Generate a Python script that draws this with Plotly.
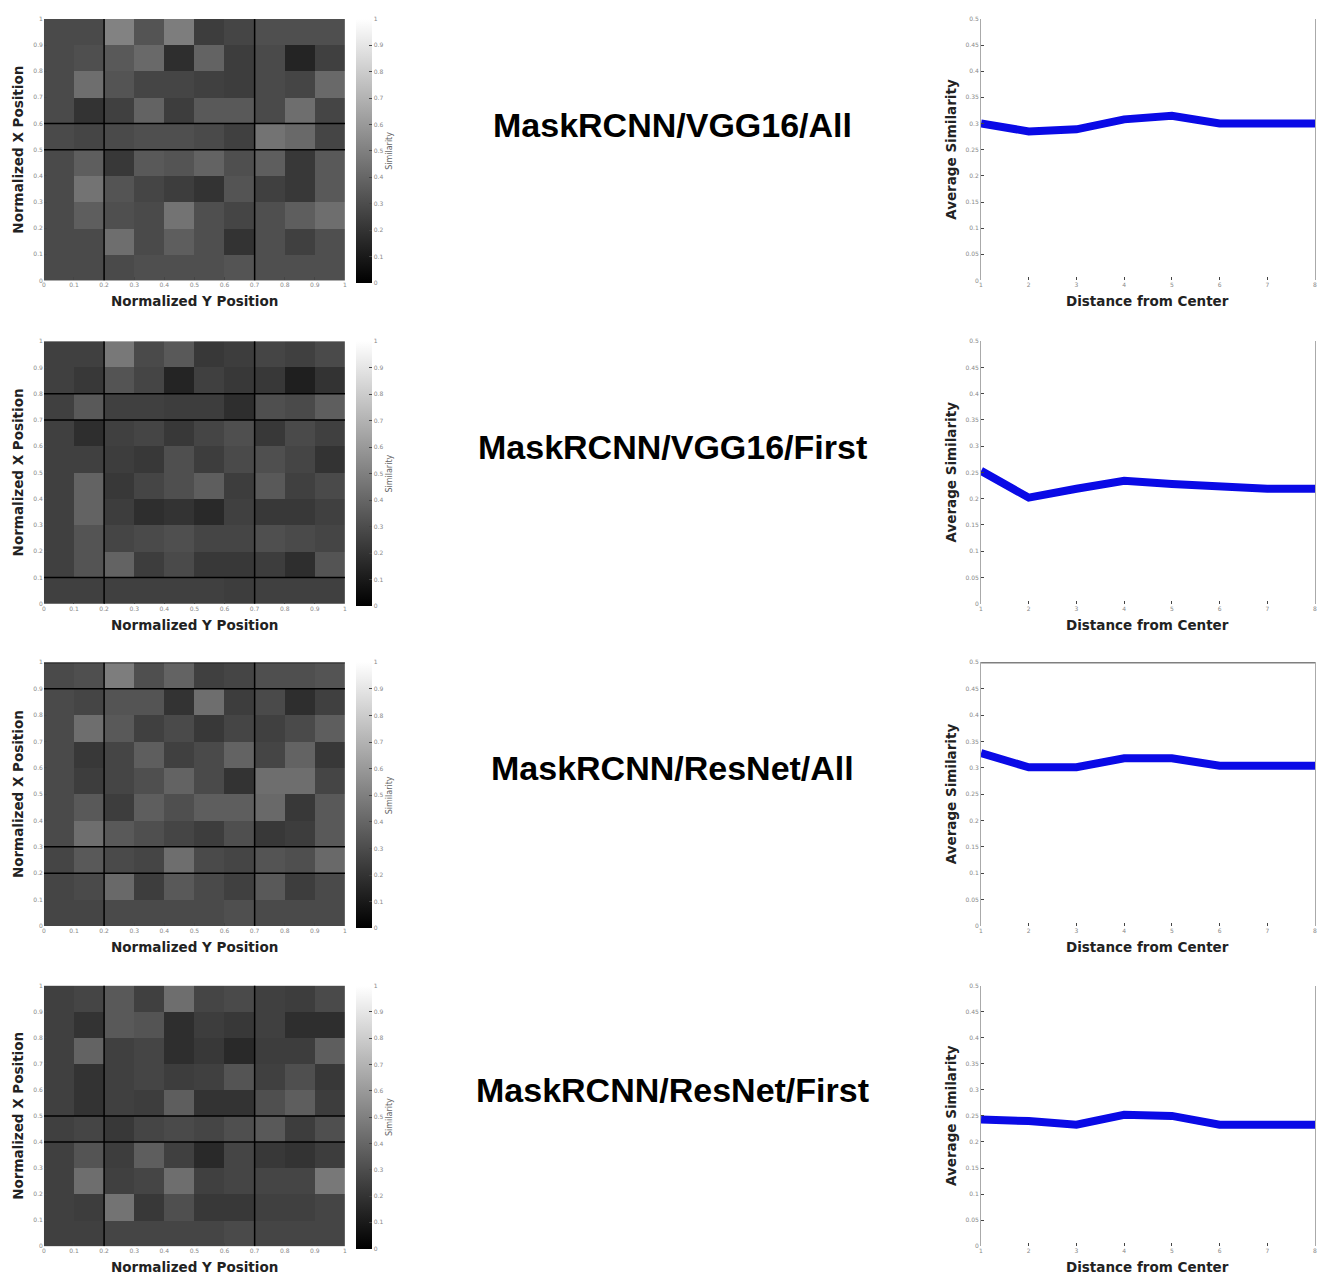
import plotly.graph_objects as go

W, H = 1323, 1280

titles = ["MaskRCNN/VGG16/All", "MaskRCNN/VGG16/First",
          "MaskRCNN/ResNet/All", "MaskRCNN/ResNet/First"]

cell_x = [0.05, 0.15, 0.25, 0.35, 0.45, 0.55, 0.65, 0.75, 0.85, 0.95]
cell_y = [0.95, 0.85, 0.75, 0.65, 0.55, 0.45, 0.35, 0.25, 0.15, 0.05]
ticks01 = [0, 0.1, 0.2, 0.3, 0.4, 0.5, 0.6, 0.7, 0.8, 0.9, 1]
ticklabels01 = ["0", "0.1", "0.2", "0.3", "0.4", "0.5", "0.6", "0.7", "0.8", "0.9", "1"]

# similarity maps, rows listed top (x=0.95) to bottom (x=0.05)
heat_vgg_all = [
    [0.29, 0.29, 0.51, 0.33, 0.49, 0.24, 0.27, 0.31, 0.31, 0.31],
    [0.29, 0.31, 0.35, 0.41, 0.18, 0.39, 0.24, 0.29, 0.14, 0.25],
    [0.29, 0.43, 0.33, 0.27, 0.27, 0.25, 0.24, 0.29, 0.27, 0.41],
    [0.29, 0.20, 0.25, 0.39, 0.24, 0.35, 0.35, 0.29, 0.43, 0.27],
    [0.29, 0.27, 0.29, 0.31, 0.31, 0.29, 0.25, 0.45, 0.41, 0.27],
    [0.29, 0.37, 0.22, 0.35, 0.33, 0.39, 0.31, 0.37, 0.22, 0.35],
    [0.29, 0.45, 0.33, 0.27, 0.24, 0.20, 0.33, 0.25, 0.22, 0.35],
    [0.29, 0.37, 0.31, 0.29, 0.45, 0.31, 0.27, 0.31, 0.37, 0.43],
    [0.29, 0.29, 0.43, 0.29, 0.37, 0.31, 0.20, 0.31, 0.25, 0.31],
    [0.29, 0.29, 0.29, 0.31, 0.31, 0.31, 0.33, 0.31, 0.31, 0.31],
]
heat_vgg_first = [
    [0.25, 0.25, 0.47, 0.29, 0.35, 0.22, 0.24, 0.27, 0.25, 0.29],
    [0.25, 0.22, 0.33, 0.27, 0.14, 0.25, 0.22, 0.22, 0.12, 0.20],
    [0.25, 0.35, 0.25, 0.25, 0.24, 0.24, 0.18, 0.31, 0.29, 0.37],
    [0.25, 0.18, 0.25, 0.27, 0.22, 0.27, 0.31, 0.22, 0.29, 0.25],
    [0.25, 0.25, 0.24, 0.22, 0.31, 0.24, 0.29, 0.31, 0.27, 0.20],
    [0.25, 0.39, 0.22, 0.27, 0.31, 0.37, 0.24, 0.35, 0.25, 0.29],
    [0.25, 0.39, 0.24, 0.18, 0.20, 0.16, 0.25, 0.22, 0.22, 0.25],
    [0.25, 0.33, 0.27, 0.29, 0.31, 0.27, 0.27, 0.31, 0.29, 0.27],
    [0.25, 0.33, 0.39, 0.24, 0.29, 0.22, 0.22, 0.24, 0.18, 0.33],
    [0.25, 0.25, 0.25, 0.25, 0.25, 0.25, 0.24, 0.25, 0.25, 0.25],
]
heat_resnet_all = [
    [0.29, 0.31, 0.49, 0.31, 0.39, 0.25, 0.27, 0.31, 0.31, 0.33],
    [0.29, 0.27, 0.33, 0.33, 0.20, 0.43, 0.24, 0.29, 0.18, 0.25],
    [0.29, 0.43, 0.35, 0.25, 0.29, 0.22, 0.27, 0.25, 0.29, 0.37],
    [0.29, 0.22, 0.27, 0.37, 0.25, 0.29, 0.39, 0.27, 0.39, 0.22],
    [0.29, 0.24, 0.27, 0.31, 0.39, 0.29, 0.20, 0.43, 0.43, 0.27],
    [0.29, 0.35, 0.24, 0.37, 0.31, 0.37, 0.37, 0.41, 0.22, 0.35],
    [0.29, 0.43, 0.35, 0.31, 0.27, 0.24, 0.31, 0.22, 0.24, 0.35],
    [0.27, 0.35, 0.29, 0.27, 0.43, 0.29, 0.27, 0.33, 0.31, 0.41],
    [0.27, 0.29, 0.41, 0.24, 0.35, 0.29, 0.25, 0.35, 0.24, 0.29],
    [0.27, 0.27, 0.29, 0.29, 0.29, 0.29, 0.31, 0.29, 0.29, 0.29],
]
heat_resnet_first = [
    [0.25, 0.27, 0.35, 0.25, 0.43, 0.27, 0.29, 0.25, 0.24, 0.29],
    [0.25, 0.20, 0.35, 0.33, 0.18, 0.24, 0.22, 0.25, 0.18, 0.18],
    [0.25, 0.39, 0.25, 0.27, 0.18, 0.22, 0.16, 0.24, 0.24, 0.37],
    [0.25, 0.20, 0.25, 0.27, 0.24, 0.25, 0.33, 0.25, 0.31, 0.22],
    [0.25, 0.20, 0.25, 0.24, 0.37, 0.20, 0.20, 0.31, 0.37, 0.24],
    [0.25, 0.27, 0.22, 0.27, 0.29, 0.27, 0.31, 0.35, 0.24, 0.31],
    [0.25, 0.33, 0.24, 0.37, 0.25, 0.16, 0.27, 0.22, 0.20, 0.24],
    [0.25, 0.43, 0.25, 0.27, 0.43, 0.25, 0.27, 0.27, 0.27, 0.47],
    [0.25, 0.24, 0.45, 0.22, 0.31, 0.22, 0.22, 0.25, 0.25, 0.27],
    [0.25, 0.25, 0.27, 0.27, 0.27, 0.27, 0.29, 0.27, 0.27, 0.27],
]
heatmaps = [heat_vgg_all, heat_vgg_first, heat_resnet_all, heat_resnet_first]

# black grid lines seen on each map
vlines = [[0.2, 0.7], [0.2, 0.7], [0.2, 0.7], [0.2, 0.7]]
hlines = [[0.5, 0.6], [0.1, 0.7, 0.8], [0.2, 0.3, 0.9, 1.0], [0.4, 0.5]]

distance = [1, 2, 3, 4, 5, 6, 7, 8]
sim_vgg_all = [0.300, 0.285, 0.289, 0.308, 0.315, 0.300, 0.300, 0.300]
sim_vgg_first = [0.253, 0.202, 0.219, 0.234, 0.228, 0.222, 0.219, 0.219]
sim_resnet_all = [0.328, 0.301, 0.301, 0.318, 0.318, 0.304, 0.304, 0.304]
sim_resnet_first = [0.243, 0.240, 0.233, 0.252, 0.250, 0.233, 0.233, 0.233]
profiles = [sim_vgg_all, sim_vgg_first, sim_resnet_all, sim_resnet_first]
sim_ticks = [0, 0.05, 0.1, 0.15, 0.2, 0.25, 0.3, 0.35, 0.4, 0.45, 0.5]
sim_ticklabels = ["0", "0.05", "0.1", "0.15", "0.2", "0.25", "0.3", "0.35", "0.4", "0.45", "0.5"]

# pixel layout
heat_x = (42, 344)
line_x = (982, 1317)
rows_px = [(15, 278), (339, 603), (662, 927), (987, 1249)]
title_y = [122, 445, 768, 1092]

def fx(px):
    return px / W

def fy(py):
    return 1 - py / H

fig = go.Figure()
layout = dict(width=W, height=H, margin=dict(l=0, r=0, t=0, b=0),
              paper_bgcolor="white", plot_bgcolor="white", showlegend=False)
shapes = []
annotations = []
tickfont = dict(family="DejaVu Sans", size=6, color="#888888")
boldfont = dict(family="DejaVu Sans", size=13.5, color="#222222")

for i in range(4):
    top, bot = rows_px[i]
    hx = "x" if i == 0 else f"x{2*i+1}"
    hy = "y" if i == 0 else f"y{2*i+1}"
    lx = f"x{2*i+2}"
    ly = f"y{2*i+2}"
    hxk = "xaxis" if i == 0 else f"xaxis{2*i+1}"
    hyk = "yaxis" if i == 0 else f"yaxis{2*i+1}"
    lxk = f"xaxis{2*i+2}"
    lyk = f"yaxis{2*i+2}"

    fig.add_trace(go.Heatmap(
        z=heatmaps[i], x=cell_x, y=cell_y, xaxis=hx, yaxis=hy,
        zmin=0, zmax=1, colorscale=[[0, "black"], [1, "white"]],
        colorbar=dict(x=fx(355), xanchor="left", y=fy(top), yanchor="top",
                      len=(bot - top + 2) / H, lenmode="fraction", thickness=16,
                      xpad=0, ypad=0,
                      outlinewidth=0, tickvals=ticks01, ticktext=ticklabels01,
                      ticks="inside", ticklen=3, tickfont=tickfont,
                      title=dict(text="Similarity", side="right",
                                 font=dict(family="DejaVu Sans", size=8, color="#666666"))),
    ))
    fig.add_trace(go.Scatter(
        x=distance, y=profiles[i], xaxis=lx, yaxis=ly, mode="lines",
        line=dict(color="#0a0ae6", width=8),
    ))

    layout[hxk] = dict(domain=[fx(heat_x[0]), fx(heat_x[1])], anchor=hy, range=[0, 1],
                       tickvals=ticks01, ticktext=ticklabels01, tickfont=tickfont,
                       ticks="inside", ticklen=3, showgrid=False, zeroline=False,
                       showline=False)
    layout[hyk] = dict(domain=[fy(bot), fy(top)], anchor=hx, range=[0, 1],
                       tickvals=ticks01, ticktext=ticklabels01, tickfont=tickfont,
                       ticks="inside", ticklen=3, showgrid=False, zeroline=False,
                       showline=False)
    layout[lxk] = dict(domain=[fx(line_x[0]), fx(line_x[1])], anchor=ly, range=[1, 8],
                       tickvals=distance, tickfont=tickfont, ticks="inside", ticklen=3,
                       showgrid=False, zeroline=False, showline=False)
    layout[lyk] = dict(domain=[fy(bot), fy(top)], anchor=lx, range=[0, 0.5],
                       tickvals=sim_ticks, ticktext=sim_ticklabels, tickfont=tickfont,
                       ticks="inside", ticklen=3, showgrid=False, zeroline=False,
                       showline=True, linecolor="#aaaaaa", linewidth=1, mirror=True)

    for v in vlines[i]:
        shapes.append(dict(type="line", xref=hx, yref=hy, x0=v, x1=v, y0=0, y1=1,
                           line=dict(color="black", width=1.5)))
    for h in hlines[i]:
        shapes.append(dict(type="line", xref=hx, yref=hy, x0=0, x1=1, y0=h, y1=h,
                           line=dict(color="black", width=1.5)))
    if i == 2:
        shapes.append(dict(type="line", xref=lx, yref=ly, x0=1, x1=8, y0=0.5, y1=0.5,
                           line=dict(color="black", width=1.5)))

    mid = (top + bot) / 2
    annotations.append(dict(text="<b>Normalized X Position</b>", xref="paper", yref="paper",
                            x=fx(16), y=fy(mid), textangle=-90, showarrow=False,
                            font=boldfont, xanchor="center", yanchor="middle"))
    annotations.append(dict(text="<b>Normalized Y Position</b>", xref="paper", yref="paper",
                            x=fx(193), y=fy(bot + 21), showarrow=False,
                            font=boldfont, xanchor="center", yanchor="middle"))
    annotations.append(dict(text="<b>Average Similarity</b>", xref="paper", yref="paper",
                            x=fx(952), y=fy(mid), textangle=-90, showarrow=False,
                            font=boldfont, xanchor="center", yanchor="middle"))
    annotations.append(dict(text="<b>Distance from Center</b>", xref="paper", yref="paper",
                            x=fx(1149), y=fy(bot + 21), showarrow=False,
                            font=boldfont, xanchor="center", yanchor="middle"))
    annotations.append(dict(text=f"<b>{titles[i]}</b>", xref="paper", yref="paper",
                            x=fx(673), y=fy(title_y[i]), showarrow=False,
                            font=dict(family="Liberation Sans", size=34, color="black"),
                            xanchor="center", yanchor="middle"))

layout["shapes"] = shapes
layout["annotations"] = annotations
fig.update_layout(**layout)
fig.write_html("out.html", config={"displayModeBar": False},
               post_script="document.body.style.margin='0';document.body.style.overflow='hidden';")
